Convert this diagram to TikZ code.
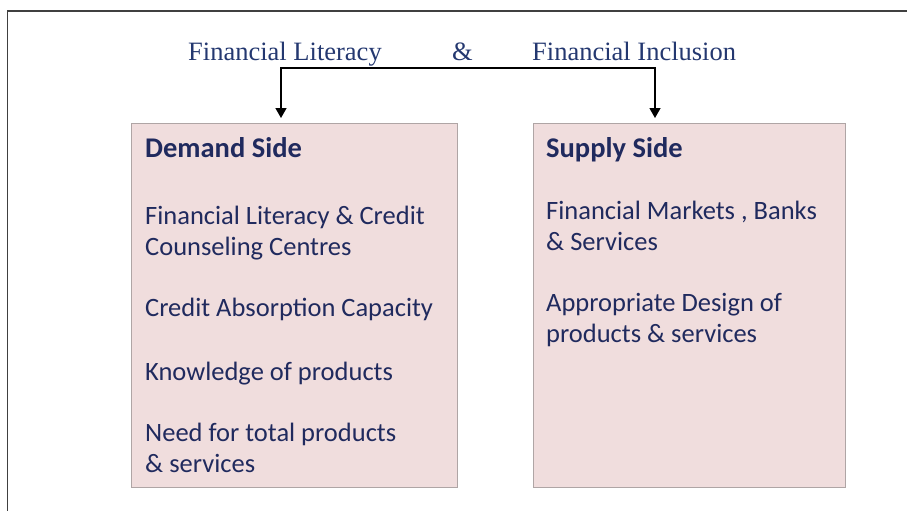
\documentclass[tikz,border=0pt]{standalone}
\usepackage{fontspec}
\setmainfont{Carlito}
\newfontfamily\titlefont{Liberation Serif}
\usetikzlibrary{arrows.meta}
\definecolor{sidefill}{RGB}{240,221,221}
\definecolor{sideedge}{RGB}{175,165,165}
\definecolor{sidetext}{RGB}{32,42,94}
\definecolor{titletext}{RGB}{36,56,112}
\newcommand{\head}[1]{{\fontsize{28.5}{31}\selectfont\textbf{#1}}} % box heading

\begin{document}
\begin{tikzpicture}[x=1pt,y=-1pt,
  side/.style={draw=sideedge,fill=sidefill,line width=0.8pt,anchor=north west,
    minimum height=364pt,inner sep=0pt},
  item/.style={anchor=base west,inner sep=0pt,text=sidetext,align=left,
    font=\fontsize{26.5}{31}\selectfont},
  topic/.style={anchor=base west,inner sep=0pt,text=titletext,
    font=\titlefont\fontsize{26.5}{30}\selectfont},
  link/.style={line width=1.4pt,{Triangle[width=11pt,length=10pt]}-{Triangle[width=11pt,length=10pt]},
    shorten <=5pt,shorten >=5pt}]
\useasboundingbox (0,0) rectangle (907,511);
\draw[line width=1.2pt,black!75] (7.5,511) -- (7.5,11) -- (907,11);

\node[topic] (lit) at (188,60) {Financial Literacy};
\node[topic] (amp) at (452,60) {\&};
\node[topic] (incl) at (532,60) {Financial Inclusion};

\node[side,minimum width=326pt] (demand) at (131,123) {};
\node[side,minimum width=312pt] (supply) at (533,123) {};

% multi-line items sit on the baseline of their last line
\node[item] (dhead) at (145,157) {\head{Demand Side}};
\node[item] (d1) at (145,255) {Financial Literacy \& Credit\\Counseling Centres};
\node[item] (d2) at (145,316) {Credit Absorption Capacity};
\node[item] (d3) at (145,380) {Knowledge of products};
\node[item] (d4) at (145,472) {Need for total products\\\& services};

\node[item] (shead) at (546,157) {\head{Supply Side}};
\node[item] (s1) at (546,250) {Financial Markets , Banks\\\& Services};
\node[item] (s2) at (546,342) {Appropriate Design of\\products \& services};

\coordinate (lhook) at (281,68);
\coordinate (rhook) at (655,68);
\draw[link] (lhook |- demand.north) |- (rhook) -- (rhook |- supply.north);
\end{tikzpicture}
\end{document}
